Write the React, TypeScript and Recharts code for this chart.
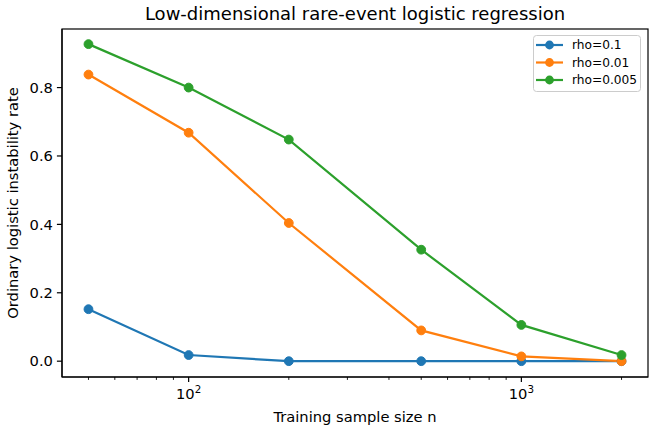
import React from 'react';
import { LineChart, Line, XAxis, YAxis } from 'recharts';

// training sample sizes (log x axis)
const sampleSizes = [50, 100, 200, 500, 1000, 2000];

// ordinary logistic instability rate per rho
const rho01 = [0.152, 0.018, 0.0, 0.0, 0.0, 0.0];
const rho001 = [0.838, 0.668, 0.404, 0.09, 0.014, 0.0];
const rho0005 = [0.927, 0.8, 0.648, 0.326, 0.106, 0.018];

const seriesNames = ['rho=0.1', 'rho=0.01', 'rho=0.005'];
const seriesColors = ['#1f77b4', '#ff7f0e', '#2ca02c'];

const majorTicks = [100, 1000];
const minorTicks = [50, 60, 70, 80, 90, 200, 300, 400, 500, 600, 700, 800, 900, 2000];
const yTicks = [0, 0.2, 0.4, 0.6, 0.8];

const data = sampleSizes.map((n, i) => ({
  n,
  s0: rho01[i],
  s1: rho001[i],
  s2: rho0005[i],
}));

const FONT = '"DejaVu Sans", sans-serif';
const W = 655;
const H = 431;
const M = { top: 29, right: 7, bottom: 0, left: 0 };
const X_DOMAIN: [number, number] = [41.63, 2402];
const Y_DOMAIN: [number, number] = [-0.04625, 0.97125];
const TICK_FS = 14.7;

// matplotlib-style ticks: majors get a 10^k label, minors only a short line
const LogTick = (props: any) => {
  const { x, y, payload } = props;
  const v = payload.value;
  const major = majorTicks.includes(v);
  if (!major) {
    return <line x1={x} x2={x} y1={y} y2={y + 2.9} stroke="#000" strokeWidth={0.9} />;
  }
  const exp = Math.round(Math.log10(v));
  return (
    <g>
      <line x1={x} x2={x} y1={y} y2={y + 5.1} stroke="#000" strokeWidth={1.2} />
      <text x={x} y={y + 22} textAnchor="middle" fontFamily={FONT} fontSize={TICK_FS} fill="#000">
        <tspan>10</tspan>
        <tspan dy={-6.5} fontSize={10.3}>{exp}</tspan>
      </text>
    </g>
  );
};

export default function App() {
  return (
    <div style={{ position: 'absolute', left: 0, top: 0, width: W, height: H, background: '#fff' }}>
      <LineChart width={W} height={H} data={data} margin={M}>
        <XAxis
          dataKey="n"
          type="number"
          scale="log"
          domain={X_DOMAIN}
          allowDataOverflow
          ticks={[...minorTicks, ...majorTicks]}
          interval={0}
          tickSize={0}
          tickMargin={0}
          tickLine={false}
          tick={<LogTick />}
          height={54}
          axisLine={{ stroke: '#000', strokeWidth: 1.2 }}
        />
        <YAxis
          type="number"
          domain={Y_DOMAIN}
          allowDataOverflow
          ticks={yTicks}
          interval={0}
          tickFormatter={(v: number) => v.toFixed(1)}
          tickSize={5.1}
          tickMargin={4}
          width={62}
          tick={{ fontFamily: FONT, fontSize: TICK_FS, fill: '#000' }}
          tickLine={{ stroke: '#000', strokeWidth: 1.2 }}
          axisLine={{ stroke: '#000', strokeWidth: 1.2 }}
        />
        {seriesNames.map((name, i) => (
          <Line
            key={name}
            name={name}
            dataKey={`s${i}`}
            type="linear"
            stroke={seriesColors[i]}
            strokeWidth={2.2}
            dot={{ r: 4.4, fill: seriesColors[i], stroke: seriesColors[i], strokeWidth: 1 }}
            activeDot={false}
            isAnimationActive={false}
          />
        ))}
      </LineChart>

      {/* frame, title, axis labels and legend box */}
      <svg width={W} height={H} style={{ position: 'absolute', left: 0, top: 0, pointerEvents: 'none' }}>
        <rect x={62} y={29} width={586} height={348} fill="none" stroke="#000" strokeWidth={1.2} />
        <text x={355} y={20} textAnchor="middle" fontFamily={FONT} fontSize={18} fill="#000">
          Low-dimensional rare-event logistic regression
        </text>
        <text x={355} y={422} textAnchor="middle" fontFamily={FONT} fontSize={TICK_FS} fill="#000">
          Training sample size n
        </text>
        <text
          x={0}
          y={0}
          transform="translate(18 203) rotate(-90)"
          textAnchor="middle"
          fontFamily={FONT}
          fontSize={TICK_FS}
          fill="#000"
        >
          Ordinary logistic instability rate
        </text>
        <rect x={533.5} y={35.5} width={107} height={56} rx={3} fill="#fff" fillOpacity={0.8} stroke="#ccc" />
        {seriesNames.map((name, i) => {
          const cy = 45 + i * 17.5;
          return (
            <g key={name}>
              <line x1={536} x2={563} y1={cy} y2={cy} stroke={seriesColors[i]} strokeWidth={2.2} />
              <circle cx={549.5} cy={cy} r={4.4} fill={seriesColors[i]} />
              <text x={572} y={cy + 4.3} fontFamily={FONT} fontSize={12.2} fill="#000">
                {name}
              </text>
            </g>
          );
        })}
      </svg>
    </div>
  );
}
